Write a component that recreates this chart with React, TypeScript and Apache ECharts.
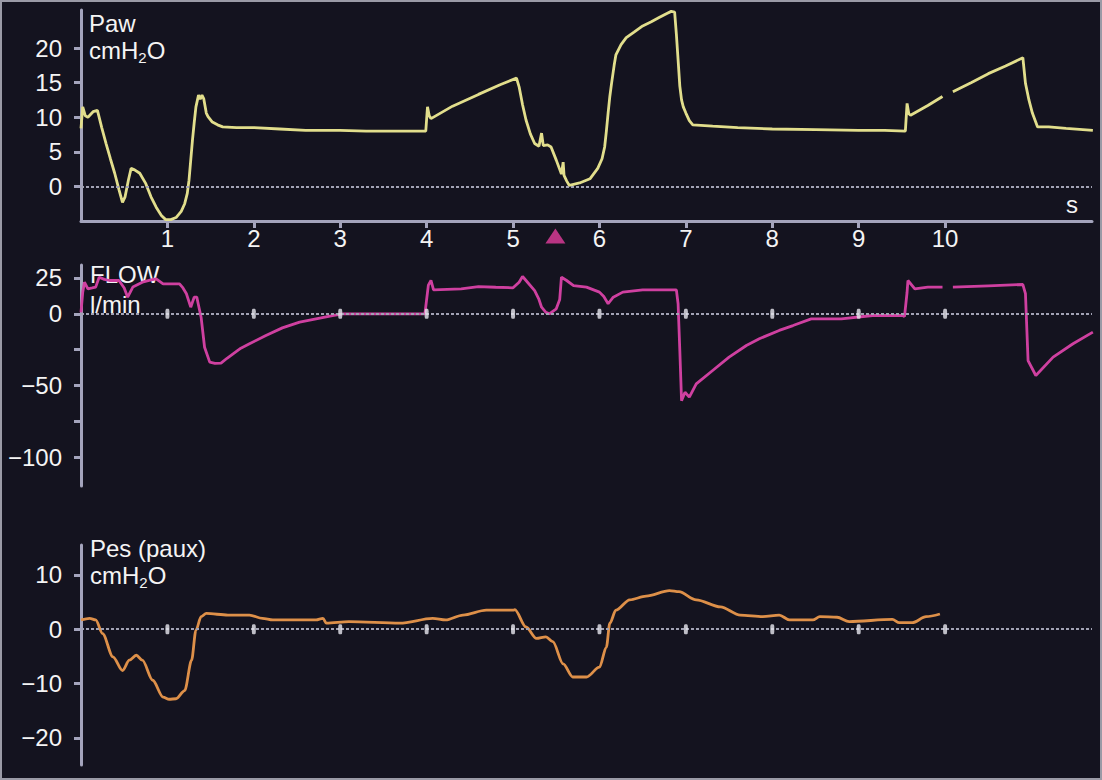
import React, { useEffect, useRef } from 'react';
import * as echarts from 'echarts';

// ---- Data (time in s) ----
const pawTime = [
  0.0, 0.02, 0.05, 0.08, 0.14, 0.19, 0.24, 0.29, 0.34, 0.39, 0.44, 0.48, 0.51, 0.55, 0.58, 0.62, 0.68, 0.75, 0.81, 0.87,
  0.93, 0.98, 1.04, 1.1, 1.16, 1.2, 1.23, 1.25, 1.27, 1.29, 1.31, 1.33, 1.36, 1.38, 1.4, 1.42, 1.45, 1.47, 1.52, 1.58,
  1.64, 1.8, 2.0, 2.3, 2.6, 3.0, 3.3, 3.6, 3.9, 3.99, 4.01, 4.03, 4.05, 4.3, 4.6, 4.85, 5.04, 5.07, 5.11, 5.15,
  5.2, 5.25, 5.3, 5.33, 5.35, 5.4, 5.44, 5.5, 5.56, 5.58, 5.59, 5.62, 5.65, 5.7, 5.77, 5.89, 5.98, 6.03, 6.06, 6.08,
  6.1, 6.12, 6.14, 6.17, 6.19, 6.25, 6.31, 6.4, 6.5, 6.6, 6.69, 6.78, 6.83, 6.87, 6.89, 6.91, 6.93, 6.95, 6.97, 7.0,
  7.04, 7.08, 7.31, 7.6, 8.0, 8.5, 9.0, 9.3, 9.54, 9.56, 9.58, 9.6, 9.8, 9.97, 10.03, 10.09, 10.3, 10.5, 10.7, 10.9,
  10.93, 10.97, 11.01, 11.07, 11.2, 11.4, 11.71,
];
const pawValues = [
  8.4, 11.5, 10.2, 10.0, 10.8, 11.0, 8.5, 6.2, 4.0, 1.9, -0.5, -2.3, -1.5, 1.0, 2.6, 2.4, 1.9, 0.4, -1.5, -3.0,
  -4.2, -4.8, -4.8, -4.5, -3.6, -2.5, -1.0, 0.9, 3.8, 6.7, 9.2, 11.5, 13.2, 12.6, 13.2, 12.7, 10.6, 10.1, 9.3, 8.9,
  8.6, 8.5, 8.5, 8.3, 8.1, 8.1, 8.0, 8.0, 8.0, 8.0, 11.5, 10.2, 9.8, 11.6, 13.3, 14.7, 15.65, 14.4, 11.8, 9.6,
  7.6, 6.2, 5.8, 7.7, 5.9, 6.0, 5.7, 3.8, 1.8, 3.5, 1.6, 0.8, 0.15, 0.3, 0.5, 1.1, 2.6, 4.0, 5.7, 8.0,
  10.6, 13.0, 14.9, 17.5, 19.0, 20.5, 21.5, 22.3, 23.2, 23.8, 24.4, 25.0, 25.3, 25.2, 22.0, 18.3, 14.5, 12.5, 11.5, 10.6,
  9.5, 8.9, 8.7, 8.5, 8.3, 8.2, 8.1, 8.1, 8.0, 12.0, 10.5, 10.3, 11.7, 13.0, null, 13.7, 15.0, 16.3, 17.4, 18.6,
  14.9, 12.5, 10.6, 8.6, 8.6, 8.4, 8.1,
];

const flowTime = [
  0.0, 0.02, 0.04, 0.08, 0.13, 0.17, 0.21, 0.27, 0.33, 0.44, 0.5, 0.54, 0.6, 0.71, 0.8, 0.87, 0.95, 1.05, 1.14, 1.18,
  1.22, 1.27, 1.31, 1.34, 1.36, 1.39, 1.43, 1.49, 1.55, 1.62, 1.69, 1.76, 1.85, 1.95, 2.14, 2.33, 2.53, 2.72, 2.91, 3.03,
  3.5, 3.98, 4.02, 4.05, 4.08, 4.4, 4.6, 4.8, 5.0, 5.07, 5.11, 5.15, 5.25, 5.3, 5.33, 5.38, 5.42, 5.5, 5.54, 5.56,
  5.62, 5.7, 5.85, 6.0, 6.05, 6.1, 6.16, 6.27, 6.5, 6.7, 6.89, 6.91, 6.93, 6.95, 6.99, 7.04, 7.12, 7.31, 7.5, 7.7,
  7.85, 8.08, 8.24, 8.45, 8.8, 9.16, 9.51, 9.53, 9.56, 9.57, 9.65, 9.8, 9.97, 10.03, 10.09, 10.5, 10.9, 10.93, 10.96, 11.05,
  11.25, 11.48, 11.71,
];
const flowValues = [
  1, 15, 22, 17.4, 18, 18.6, 25.5, 24, 23.2, 23.2, 18, 11.6, 18.6, 22, 23.5, 24.4, 20.9, 20.9, 20.9, 18,
  14, 4.6, 11.6, 11.6, 6, -2.4, -23.3, -33.7, -34.5, -34.4, -31, -27.9, -24, -20.9, -15.1, -9.8, -5.8, -3.5, -1.2, 0,
  0, 0, 20, 23.2, 16.7, 17.4, 19, 18.5, 18.1, 22, 26, 23.2, 16.2, 10, 4.6, 1, 0, 3.5, 10, 25.5,
  23.2, 19.7, 18.6, 15.1, 12, 7, 11.6, 15.1, 16.7, 16.7, 16.7, 7, -25.6, -60.5, -54.7, -58.1, -48.8, -39.5, -30.2, -22.1,
  -17.4, -11.6, -8.2, -3.5, -3.5, -1.2, -1.2, -2, 15, 23.2, 17.4, 18.6, 18.6, null, 18.6, 19.5, 20.4, 14, -32.6, -43,
  -30.2, -20.9, -12.8,
];

const pesTime = [
  0.0, 0.1, 0.17, 0.25, 0.37, 0.48, 0.56, 0.64, 0.71, 0.83, 0.95, 1.02, 1.1, 1.2, 1.28, 1.33, 1.39, 1.45, 1.7, 1.95,
  2.1, 2.22, 2.72, 2.8, 2.84, 3.1, 3.69, 4.07, 4.22, 4.42, 4.69, 5.0, 5.02, 5.15, 5.27, 5.38, 5.46, 5.58, 5.69, 5.85,
  6.0, 6.08, 6.12, 6.19, 6.35, 6.54, 6.81, 6.92, 7.12, 7.4, 7.63, 7.89, 8.08, 8.2, 8.47, 8.55, 8.75, 8.89, 9.39, 9.47,
  9.62, 9.78, 9.94,
];
const pesValues = [
  1.7, 2.0, 1.7, -0.8, -5.1, -7.6, -5.7, -4.8, -5.7, -9.4, -12.5, -12.9, -12.8, -11.3, -5.7, -0.2, 2.3, 2.9, 2.6, 2.6,
  2.0, 1.7, 1.7, 2.0, 1.1, 1.4, 1.1, 2.0, 1.7, 2.6, 3.5, 3.5, 3.6, 0.4, -1.7, -1.4, -2.3, -6.4, -8.8, -8.8,
  -7.0, -3.3, 1.1, 3.5, 5.4, 6.1, 7.1, 6.9, 5.4, 4.1, 2.6, 2.3, 2.6, 1.7, 1.7, 2.3, 2.2, 1.4, 1.8, 1.2,
  1.2, 2.3, 2.8,
];

const secondTicks = [1, 2, 3, 4, 5, 6, 7, 8, 9, 10];
const pawTickValues = [0, 5, 10, 15, 20];
const flowTickValues = [25, 0, -25, -50, -75, -100];
const flowLabelValues = [25, 0, -50, -100];
const pesTickValues = [10, 0, -10, -20];
const triggerTimes = [5.49];

const zip = (t: number[], v: (number | null)[]) => t.map((x, i) => [x, v[i] === null ? '-' : v[i]]);

const FONT = '"Liberation Sans", Arial, Helvetica, sans-serif';
const AXIS_COLOR = '#a4a4bc';
const TEXT_COLOR = '#f4f4f4';
const ZERO_COLOR = '#a2a2b4';
const BG = '#14131f';

const fmt = (v: number) => (v < 0 ? '\u2212' + Math.abs(v) : String(v));

export default function App() {
  const ref = useRef<HTMLDivElement>(null);

  useEffect(() => {
    if (!ref.current) return;
    const chart = echarts.init(ref.current, undefined, { renderer: 'svg' });

    const grids = [
      { left: 81, right: 10, top: 10, height: 211 },
      { left: 81, right: 10, top: 265, height: 221 },
      { left: 81, right: 10, top: 545, height: 220 },
    ];

    const yAxisCommon = (min: number, max: number, ticks: number[], labels: number[], gridIndex: number) => ({
      type: 'value',
      gridIndex,
      min,
      max,
      splitLine: { show: false },
      axisLine: { show: true, onZero: false, lineStyle: { color: AXIS_COLOR, width: 3 } },
      axisTick: { show: true, customValues: ticks, length: 7, lineStyle: { color: AXIS_COLOR, width: 3 } },
      axisLabel: {
        show: true,
        customValues: labels,
        formatter: fmt,
        color: TEXT_COLOR,
        fontSize: 24,
        fontFamily: FONT,
        margin: 19,
      },
    });

    const xAxisHidden = (gridIndex: number) => ({
      type: 'value',
      gridIndex,
      min: 0,
      max: 11.7,
      show: false,
    });

    const zeroLine = {
      silent: true,
      symbol: ['none', 'none'],
      label: { show: false },
      lineStyle: { color: ZERO_COLOR, width: 2, type: [3, 2] },
      data: [{ yAxis: 0 }],
    };

    const markerSeries = (idx: number) => ({
      type: 'scatter',
      xAxisIndex: idx,
      yAxisIndex: idx,
      data: secondTicks.map((s) => [s, 0]),
      symbol: 'roundRect',
      symbolSize: [4, 10],
      itemStyle: { color: '#e8e8f0' },
      silent: true,
      z: 5,
    });

    const subText = (text: string, left: number, top: number) => ({
      type: 'text',
      left,
      top,
      silent: true,
      style: {
        text,
        fill: TEXT_COLOR,
        font: `24px ${FONT}`,
      },
    });

    const unitText = (left: number, top: number) => ({
      type: 'text',
      left,
      top,
      silent: true,
      style: {
        text: '{a|cmH}{s|2}{a|O}',
        fill: TEXT_COLOR,
        rich: {
          a: { fontSize: 24, fontFamily: FONT, fill: TEXT_COLOR, lineHeight: 30, verticalAlign: 'middle' },
          s: { fontSize: 15, fontFamily: FONT, fill: TEXT_COLOR, lineHeight: 14, verticalAlign: 'bottom' },
        },
      },
    });

    chart.setOption({
      animation: false,
      backgroundColor: 'transparent',
      grid: grids,
      xAxis: [
        {
          type: 'value',
          gridIndex: 0,
          min: 0,
          max: 11.7,
          splitLine: { show: false },
          axisLine: { show: true, onZero: false, lineStyle: { color: AXIS_COLOR, width: 3 } },
          axisTick: { show: true, customValues: secondTicks, length: 7, lineStyle: { color: AXIS_COLOR, width: 3 } },
          axisLabel: {
            customValues: secondTicks,
            color: TEXT_COLOR,
            fontSize: 24,
            fontFamily: FONT,
            margin: 5,
          },
        },
        xAxisHidden(1),
        xAxisHidden(2),
      ],
      yAxis: [
        yAxisCommon(-5, 25.5, pawTickValues, pawTickValues, 0),
        yAxisCommon(-120, 34, flowTickValues, flowLabelValues, 1),
        yAxisCommon(-25, 15.5, pesTickValues, pesTickValues, 2),
      ],
      series: [
        {
          type: 'line',
          name: 'Paw',
          xAxisIndex: 0,
          yAxisIndex: 0,
          data: zip(pawTime, pawValues),
          showSymbol: false,
          connectNulls: false,
          lineStyle: { color: '#e2de8c', width: 2.8 },
          markLine: zeroLine,
          z: 3,
        },
        {
          type: 'line',
          name: 'FLOW',
          xAxisIndex: 1,
          yAxisIndex: 1,
          data: zip(flowTime, flowValues),
          showSymbol: false,
          connectNulls: false,
          lineStyle: { color: '#cf40a0', width: 2.8 },
          markLine: zeroLine,
          z: 3,
        },
        {
          type: 'line',
          name: 'Pes',
          xAxisIndex: 2,
          yAxisIndex: 2,
          data: zip(pesTime, pesValues),
          showSymbol: false,
          smooth: 0.3,
          smoothMonotone: 'x',
          lineStyle: { color: '#de9049', width: 2.8 },
          markLine: zeroLine,
          z: 3,
        },
        markerSeries(1),
        markerSeries(2),
        {
          type: 'scatter',
          xAxisIndex: 0,
          yAxisIndex: 0,
          data: triggerTimes.map((t) => [t, -5]),
          symbol: 'triangle',
          symbolSize: [20, 15],
          symbolOffset: [0, 15],
          clip: false,
          itemStyle: { color: '#e23d9c' },
          silent: true,
          z: 6,
        },
      ],
      graphic: [
        subText('Paw', 89, 11),
        unitText(89, 38),
        subText('s', 1066, 192),
        subText('FLOW', 90, 262),
        subText('l/min', 90, 292),
        subText('Pes (paux)', 90, 536),
        unitText(90, 563),
      ],
    });

    return () => chart.dispose();
  }, []);

  return (
    <div
      ref={ref}
      style={{
        position: 'absolute',
        left: 0,
        top: 0,
        width: 1102,
        height: 780,
        background: BG,
        boxShadow: 'inset 0 0 0 2px #9a9aa6',
      }}
    />
  );
}
